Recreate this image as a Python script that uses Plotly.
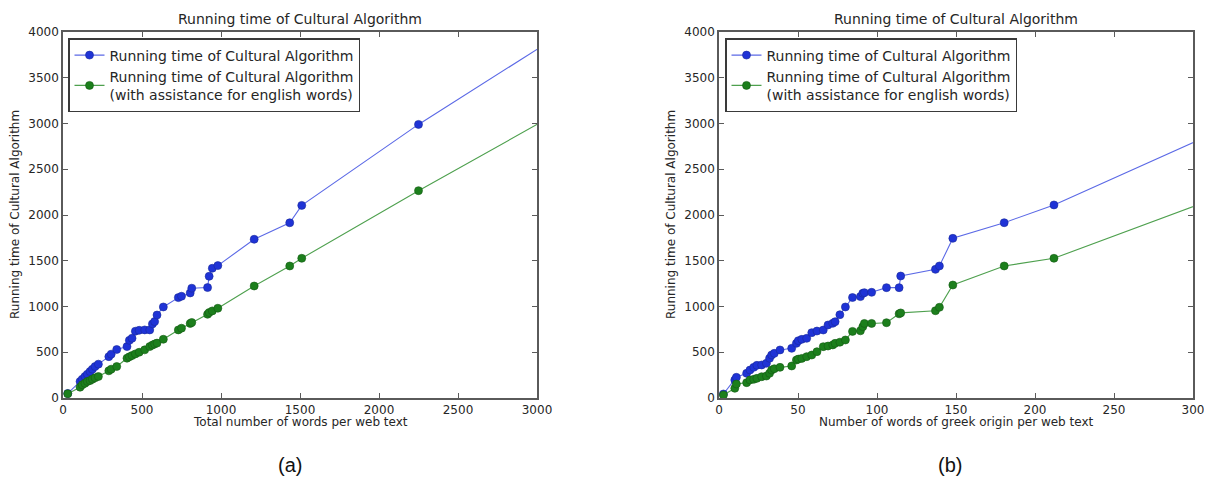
import plotly.graph_objects as go

# ---------------- data ----------------
# (a) total number of words per web text
left_words = [30, 108, 122, 139, 154, 171, 186, 203, 224, 290, 305, 340, 405, 420,
              437, 458, 482, 517, 549, 566, 580, 595, 635, 730, 750, 805, 815, 915,
              925, 945, 980, 1210, 1435, 1511, 2250, 3050]
left_ca = [50, 180, 206, 235, 260, 289, 315, 344, 370, 452, 479, 530, 562, 630,
           653, 730, 740, 744, 744, 810, 835, 907, 995, 1097, 1112, 1148, 1200, 1207,
           1330, 1418, 1447, 1735, 1915, 2105, 2990, 3865]
left_ca_en = [46, 118, 144, 160, 180, 190, 205, 220, 235, 297, 315, 344, 435, 450,
              464, 482, 500, 526, 562, 578, 590, 600, 642, 744, 763, 815, 825, 915,
              934, 952, 981, 1224, 1443, 1527, 2266, 3038]

# (b) number of words of greek origin per web text
right_greek = [2.8, 10, 11, 17.5, 19.6, 22, 24, 27, 30, 32, 33.3, 35, 38.6, 46, 49,
               50.2, 52.4, 55.5, 58.7, 62, 66, 69, 72, 73.5, 76.5, 80, 84.5, 89.5,
               91, 92, 96.6, 106, 114, 115, 137, 139.5, 148, 180.5, 212, 310]
right_ca = [44, 197, 226, 270, 306, 335, 357, 361, 379, 434, 470, 488, 525, 543, 597,
            626, 641, 652, 714, 732, 743, 798, 816, 834, 910, 995, 1098, 1108,
            1144, 1151, 1155, 1206, 1206, 1333, 1406, 1443, 1745, 1916, 2110, 2868]
right_ca_en = [33, 106, 153, 168, 197, 204, 215, 233, 240, 270, 306, 320, 335, 350, 415,
               425, 433, 452, 470, 506, 561, 568, 580, 597, 610, 634, 728, 734,
               779, 815, 815, 823, 920, 930, 954, 991, 1235, 1443, 1527, 2155]

series_names = ["Running time of Cultural Algorithm",
                "Running time of Cultural Algorithm<br>(with assistance for english words)"]
titles = ["Running time of Cultural Algorithm", "Running time of Cultural Algorithm"]
x_titles = ["Total number of words per web text", "Number of words of greek origin per web text"]
y_title = "Running time of Cultural Algorithm"
panel_labels = ["(a)", "(b)"]

# ---------------- style ----------------
WIN_W, WIN_H = 1212, 489
OFF = 8                      # default page body margin
FW, FH = WIN_W - OFF, WIN_H - OFF


def px(x):
    return (x - OFF) / FW


def py(y):
    return 1 - (y - OFF) / FH


BLUE_M, BLUE_L, BLUE_E = "#1f33d6", "#5b69e6", "#1a2a9a"
GREEN_M, GREEN_L, GREEN_E = "#1c7f1c", "#4ea04e", "#145a14"
FONT = "DejaVu Sans"
AXC = "#5a5a5a"
TXT = "#262626"

L_X0, L_X1 = px(63), px(537)
R_X0, R_X1 = px(719), px(1193)
Y0, Y1 = py(398), py(32)

fig = go.Figure()


def add(x, y, name, mc, lc, ec, xa, ya, leg):
    fig.add_trace(go.Scatter(
        x=x, y=y, name=name, mode="lines+markers",
        xaxis=xa, yaxis=ya, legend=leg,
        line=dict(color=lc, width=1.1),
        marker=dict(color=mc, size=8, line=dict(color=ec, width=0.6)),
    ))


add(left_words, left_ca, series_names[0], BLUE_M, BLUE_L, BLUE_E, "x", "y", "legend")
add(left_words, left_ca_en, series_names[1], GREEN_M, GREEN_L, GREEN_E, "x", "y", "legend")
add(right_greek, right_ca, series_names[0], BLUE_M, BLUE_L, BLUE_E, "x2", "y2", "legend2")
add(right_greek, right_ca_en, series_names[1], GREEN_M, GREEN_L, GREEN_E, "x2", "y2", "legend2")

axis_common = dict(
    showline=True, linecolor=AXC, linewidth=1.5, mirror="ticks",
    ticks="inside", ticklen=5, tickcolor=AXC, tickwidth=1,
    showgrid=False, zeroline=False, automargin=False,
    tickfont=dict(family=FONT, size=12, color=TXT),
)

legend_common = dict(
    xanchor="left", yanchor="top",
    bgcolor="white", bordercolor="#3a3a3a", borderwidth=1.5,
    font=dict(family=FONT, size=14, color=TXT),
    tracegroupgap=0, itemwidth=30,
)

fig.update_layout(
    width=FW, height=FH,
    margin=dict(l=0, r=0, t=0, b=0, autoexpand=False),
    paper_bgcolor="white", plot_bgcolor="white",
    showlegend=True,
    xaxis=dict(domain=[L_X0, L_X1], range=[0, 3000], dtick=500, anchor="y", **axis_common),
    yaxis=dict(domain=[Y0, Y1], range=[0, 4000], dtick=500, anchor="x", **axis_common),
    xaxis2=dict(domain=[R_X0, R_X1], range=[0, 300], dtick=50, anchor="y2", **axis_common),
    yaxis2=dict(domain=[Y0, Y1], range=[0, 4000], dtick=500, anchor="x2", **axis_common),
    legend=dict(x=px(68), y=py(38), **legend_common),
    legend2=dict(x=px(725), y=py(38), **legend_common),
)

ann = []
for i, (x0, x1) in enumerate([(L_X0, L_X1), (R_X0, R_X1)]):
    xc = (x0 + x1) / 2
    ann.append(dict(text=titles[i], xref="paper", yref="paper", x=xc, y=Y1,
                    xanchor="center", yanchor="bottom", yshift=3, showarrow=False,
                    font=dict(family=FONT, size=14, color=TXT)))
    ann.append(dict(text=x_titles[i], xref="paper", yref="paper", x=xc, y=Y0,
                    xanchor="center", yanchor="top", yshift=-15, showarrow=False,
                    font=dict(family=FONT, size=12, color=TXT)))
    ann.append(dict(text=y_title, xref="paper", yref="paper", x=x0, y=(Y0 + Y1) / 2,
                    xanchor="center", yanchor="middle", xshift=-48, textangle=-90,
                    showarrow=False, font=dict(family=FONT, size=12, color=TXT)))
ann.append(dict(text=panel_labels[0], xref="paper", yref="paper", x=px(290), y=py(465),
                xanchor="center", yanchor="middle", showarrow=False,
                font=dict(family="Liberation Sans", size=20, color="#111")))
ann.append(dict(text=panel_labels[1], xref="paper", yref="paper", x=px(950), y=py(465),
                xanchor="center", yanchor="middle", showarrow=False,
                font=dict(family="Liberation Sans", size=20, color="#111")))
fig.update_layout(annotations=ann)

fig.write_html("out.html")
